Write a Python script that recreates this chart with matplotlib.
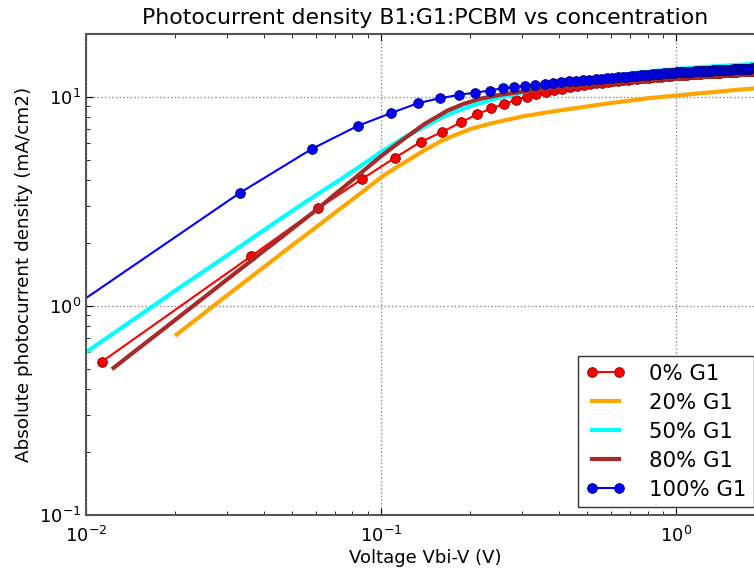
import matplotlib
matplotlib.use("Agg")
import matplotlib.pyplot as plt

# 0% G1 (markers)
v_0 = [0.0113, 0.0363, 0.0613, 0.0863, 0.1113, 0.1363, 0.1613, 0.1863, 0.2113, 0.2363,
       0.2613, 0.2863, 0.3113, 0.3363, 0.3613, 0.3863, 0.4113, 0.4363, 0.4613, 0.4863,
       0.5113, 0.5363, 0.5613, 0.5863, 0.6113, 0.6363, 0.6613, 0.6863, 0.7113, 0.7363,
       0.7613, 0.7863, 0.8113, 0.8363, 0.8613, 0.8863, 0.9113, 0.9363, 0.9613, 0.9863,
       1.0113, 1.0363, 1.0613, 1.0863, 1.1113, 1.1363, 1.1613, 1.1863, 1.2113, 1.2363,
       1.2613, 1.2863, 1.3113, 1.3363, 1.3613, 1.3863, 1.4113, 1.4363, 1.4613, 1.4863,
       1.5113, 1.5363, 1.5613, 1.5863, 1.6113, 1.6363, 1.6613, 1.6863, 1.7113, 1.7363,
       1.7613, 1.7863, 1.8113, 1.8363, 1.8613, 1.8863, 1.9113, 1.9363, 1.9613, 1.9863]
j_0 = [0.54, 1.73, 2.93, 4.05, 5.11, 6.09, 6.8, 7.55, 8.25, 8.8,
       9.25, 9.65, 10.0, 10.3, 10.55, 10.75, 10.95, 11.1, 11.25, 11.4,
       11.5, 11.6, 11.7, 11.8, 11.88, 11.96, 12.03, 12.1, 12.16, 12.22,
       12.28, 12.33, 12.38, 12.43, 12.47, 12.51, 12.55, 12.59, 12.63, 12.66,
       12.69, 12.72, 12.75, 12.78, 12.81, 12.84, 12.86, 12.89, 12.91, 12.94,
       12.96, 12.98, 13.0, 13.02, 13.04, 13.06, 13.08, 13.1, 13.12, 13.14,
       13.15, 13.17, 13.19, 13.2, 13.22, 13.23, 13.25, 13.26, 13.28, 13.29,
       13.31, 13.32, 13.33, 13.35, 13.36, 13.37, 13.39, 13.4, 13.41, 13.42]

# 20% G1
v_20 = [0.0203, 0.03, 0.04, 0.05, 0.06, 0.07, 0.08, 0.09, 0.1, 0.11,
        0.12, 0.14, 0.16, 0.18, 0.2, 0.23, 0.26, 0.3, 0.35, 0.4,
        0.5, 0.6, 0.7, 0.8, 1.0, 1.2, 1.4, 1.6, 1.8, 2.0]
j_20 = [0.73, 1.12, 1.53, 1.95, 2.37, 2.8, 3.23, 3.67, 4.12, 4.5,
        4.85, 5.55, 6.15, 6.6, 7.0, 7.4, 7.7, 8.05, 8.35, 8.6,
        9.0, 9.35, 9.6, 9.85, 10.15, 10.4, 10.6, 10.8, 10.95, 11.1]

# 50% G1
v_50 = [0.008, 0.01, 0.015, 0.02, 0.025, 0.03, 0.04, 0.05, 0.06, 0.07, 0.08,
        0.09, 0.1, 0.12, 0.14, 0.16, 0.18, 0.2, 0.22, 0.25, 0.3,
        0.35, 0.4, 0.5, 0.6, 0.7, 0.8, 1.0, 1.2, 1.4, 1.6, 1.8, 2.0]
j_50 = [0.48, 0.6, 0.89, 1.18, 1.46, 1.74, 2.3, 2.85, 3.38, 3.88, 4.4,
        4.92, 5.45, 6.4, 7.2, 7.95, 8.55, 9.0, 9.4, 9.9, 10.5,
        11.0, 11.5, 12.15, 12.6, 12.95, 13.2, 13.6, 13.85, 14.05, 14.2, 14.35, 14.45]

# 80% G1
v_80 = [0.0124, 0.015, 0.0175, 0.02, 0.0243, 0.03, 0.035, 0.04, 0.0455, 0.05,
        0.06, 0.07, 0.08, 0.09, 0.1, 0.116, 0.14, 0.168, 0.19, 0.217,
        0.25, 0.28, 0.35, 0.47, 0.6, 0.8, 1.0, 1.3, 1.6, 1.84, 2.0]
j_80 = [0.505, 0.623, 0.737, 0.854, 1.058, 1.335, 1.58, 1.832, 2.108, 2.34,
        2.86, 3.43, 4.0, 4.6, 5.2, 6.1, 7.4, 8.6, 9.25, 9.8,
        10.2, 10.45, 10.85, 11.25, 11.6, 12.0, 12.3, 12.55, 12.75, 12.85, 12.9]

# 100% G1 (markers)
v_100 = [0.0083, 0.0333, 0.0583, 0.0833, 0.1083, 0.1333, 0.1583, 0.1833, 0.2083, 0.2333,
         0.2583, 0.2833, 0.3083, 0.3333, 0.3583, 0.3833, 0.4083, 0.4333, 0.4583, 0.4833,
         0.5083, 0.5333, 0.5583, 0.5833, 0.6083, 0.6333, 0.6583, 0.6833, 0.7083, 0.7333,
         0.7583, 0.7833, 0.8083, 0.8333, 0.8583, 0.8833, 0.9083, 0.9333, 0.9583, 0.9833,
         1.0083, 1.0333, 1.0583, 1.0833, 1.1083, 1.1333, 1.1583, 1.1833, 1.2083, 1.2333,
         1.2583, 1.2833, 1.3083, 1.3333, 1.3583, 1.3833, 1.4083, 1.4333, 1.4583, 1.4833,
         1.5083, 1.5333, 1.5583, 1.5833, 1.6083, 1.6333, 1.6583, 1.6833, 1.7083, 1.7333,
         1.7583, 1.7833, 1.8083, 1.8333, 1.8583, 1.8833, 1.9083, 1.9333, 1.9583, 1.9833]
j_100 = [0.91, 3.48, 5.64, 7.26, 8.38, 9.33, 9.85, 10.22, 10.49, 10.72,
         11.0, 11.2, 11.3, 11.42, 11.56, 11.68, 11.77, 11.85, 11.93, 12.0,
         12.08, 12.15, 12.22, 12.28, 12.34, 12.4, 12.46, 12.51, 12.57, 12.62,
         12.67, 12.72, 12.77, 12.82, 12.86, 12.91, 12.95, 12.99, 13.03, 13.07,
         13.11, 13.13, 13.16, 13.18, 13.2, 13.22, 13.25, 13.27, 13.29, 13.31,
         13.33, 13.35, 13.36, 13.38, 13.4, 13.42, 13.44, 13.45, 13.47, 13.49,
         13.5, 13.52, 13.54, 13.55, 13.57, 13.58, 13.6, 13.61, 13.63, 13.64,
         13.65, 13.67, 13.68, 13.7, 13.71, 13.72, 13.74, 13.75, 13.76, 13.77]

plt.rcParams["mathtext.fontset"] = "dejavusans"
plt.rcParams["xtick.direction"] = "in"
plt.rcParams["ytick.direction"] = "in"

fig = plt.figure(figsize=(7.54, 5.69), dpi=100)
# the axes run past the right edge of the picture, like the cropped original
ax = fig.add_axes([0.114, 0.095, 0.9005, 0.8453])

ax.plot(v_0, j_0, "-o", color="red", lw=1.5, ms=7, mec="#880000", mew=0.6, label="0% G1")
ax.plot(v_20, j_20, "-", color="orange", lw=3, label="20% G1")
ax.plot(v_50, j_50, "-", color="cyan", lw=3, label="50% G1")
ax.plot(v_80, j_80, "-", color="brown", lw=3, label="80% G1")
ax.plot(v_100, j_100, "-o", color="blue", lw=1.5, ms=7, mec="#000066", mew=0.6, label="100% G1")

ax.set_xscale("log")
ax.set_yscale("log")
ax.set_xlim(0.01, 2)
ax.set_ylim(0.1, 20)

ax.grid(True, which="major", color="#888888", linestyle=":", linewidth=1)
ax.tick_params(which="both", top=True, right=True, labelsize=13)
ax.tick_params(which="major", length=5)
ax.tick_params(which="minor", length=3)
ax.tick_params(axis="x", which="major", pad=8)
for s in ax.spines.values():
    s.set_color("#555555")
    s.set_linewidth(1.5)

ax.set_title("Photocurrent density B1:G1:PCBM vs concentration", fontsize=15.8, pad=7)
ax.set_xlabel("Voltage Vbi-V (V)", fontsize=13, labelpad=2)
ax.set_ylabel("Absolute photocurrent density (mA/cm2)", fontsize=13.2)

leg = ax.legend(loc="lower left", bbox_to_anchor=(0.7246, 0.0166), borderaxespad=0,
                numpoints=2, fontsize=15.3, fancybox=False, framealpha=1,
                edgecolor="#333333", handlelength=1.9, handletextpad=1.1,
                borderpad=0.35, labelspacing=0.42)
leg.get_frame().set_linewidth(1)

fig.savefig("out.png", dpi=100)
